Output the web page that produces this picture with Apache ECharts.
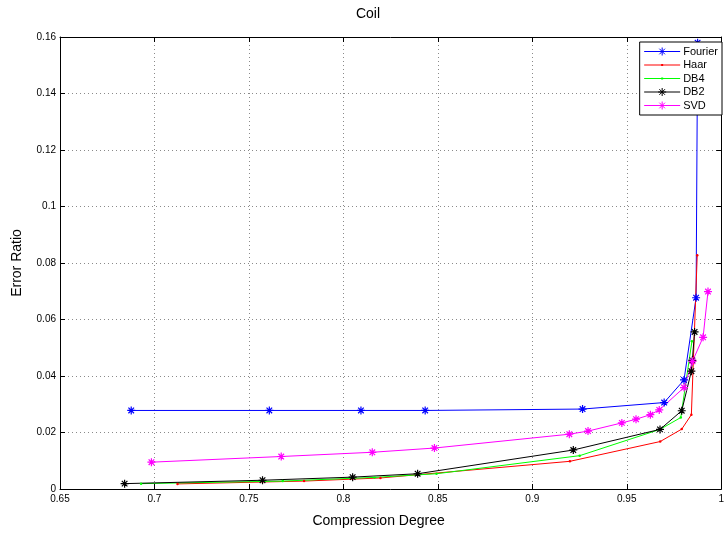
<!DOCTYPE html>
<html>
<head>
<meta charset="utf-8">
<script src="https://cdn.jsdelivr.net/npm/echarts@6/dist/echarts.min.js"></script>
<style>
  html, body { margin: 0; padding: 0; background: #fff; }
  #chart { width: 727px; height: 533px; }
</style>
</head>
<body>
<div id="chart"></div>
<script>
// Compression degree vs. error ratio for each transform
const fourierX = [0.6877, 0.7608, 0.8093, 0.8433, 0.9266, 0.9698, 0.9803, 0.9867, 0.9875];
const fourierY = [0.0278, 0.0278, 0.0278, 0.0278, 0.0283, 0.0306, 0.0386, 0.0677, 0.158];

const haarX = [0.7122, 0.7792, 0.8196, 0.9199, 0.9677, 0.9791, 0.9842, 0.9873];
const haarY = [0.0018, 0.0028, 0.0039, 0.0098, 0.0168, 0.0212, 0.0263, 0.0827];

const db4X = [0.6929, 0.7679, 0.8165, 0.8493, 0.9251, 0.9676, 0.9786, 0.9845];
const db4Y = [0.0019, 0.0028, 0.0041, 0.0054, 0.0118, 0.0211, 0.0253, 0.0523];

const db2X = [0.6842, 0.7572, 0.8049, 0.8393, 0.9217, 0.9676, 0.9791, 0.9842, 0.9847, 0.9859];
const db2Y = [0.0019, 0.0031, 0.0042, 0.0054, 0.0138, 0.0211, 0.0277, 0.0417, 0.0455, 0.0556];

const svdX = [0.6984, 0.7671, 0.8153, 0.8482, 0.9196, 0.9295, 0.9474, 0.9549, 0.9625, 0.9672, 0.9803, 0.9848, 0.9904, 0.9930];
const svdY = [0.0095, 0.0115, 0.0130, 0.0145, 0.0194, 0.0205, 0.0234, 0.0247, 0.0263, 0.0280, 0.0359, 0.0452, 0.0537, 0.0699];

const xTicks = { min: 0.65, max: 1, interval: 0.05 };
const yTicks = { min: 0, max: 0.16, interval: 0.02 };

const zip = (xs, ys) => xs.map((x, i) => [x, ys[i]]);

// eight-armed star marker
const STAR = 'path://M0,-10L0,10M-10,0L10,0M-7,-7L7,7M-7,7L7,-7';
// legend icons drawn in a 36x10 frame (zero-size corner points pin the frame)
const FRAME = 'M0,0L0,0ZM36,10L36,10Z';
const DOT_LINE_ICON = 'path://' + FRAME + 'M0,4.5L36,4.5L36,5.5L0,5.5ZM17,4L19,4L19,6L17,6Z';
const STAR_LINE_ICON = 'path://' + FRAME + 'M0,5L36,5M18,1L18,9M14,5L22,5M15.2,2.2L20.8,7.8M15.2,7.8L20.8,2.2';

function makeSeries(name, xs, ys, color, marker) {
  const star = marker === 'star';
  return {
    name: name,
    type: 'line',
    data: zip(xs, ys),
    symbol: star ? STAR : 'circle',
    symbolSize: star ? 8 : 2.5,
    showSymbol: true,
    animation: false,
    lineStyle: { color: color, width: 1 },
    itemStyle: star
      ? { color: 'rgba(0,0,0,0)', borderColor: color, borderWidth: 1.2 }
      : { color: color, borderWidth: 0 },
    emphasis: { disabled: true }
  };
}

const FONT = 'Liberation Sans, Arial, sans-serif';
const gridLine = { show: true, lineStyle: { color: '#8a8a8a', width: 1, type: [1, 3] } };

const chart = echarts.init(document.getElementById('chart'));
chart.setOption({
  backgroundColor: '#fff',
  animation: false,
  title: {
    text: 'Coil',
    left: 363,
    top: 2,
    textAlign: 'center',
    textStyle: { fontFamily: FONT, fontSize: 14, fontWeight: 'normal', color: '#000' }
  },
  grid: { left: 60, right: 1, top: 37, bottom: 41 },
  legend: {
    right: 5,
    top: 42,
    orient: 'vertical',
    backgroundColor: '#fff',
    borderColor: '#000',
    borderWidth: 1,
    borderRadius: 0,
    padding: [4, 4, 4, 4],
    itemGap: 2.5,
    itemWidth: 36,
    itemHeight: 10,
    itemStyle: { borderWidth: 1 },
    textStyle: { fontFamily: FONT, fontSize: 11, color: '#000', padding: [0, 0, 0, -2] },
    data: [
      { name: 'Fourier', icon: STAR_LINE_ICON },
      { name: 'Haar', icon: DOT_LINE_ICON, itemStyle: { borderWidth: 0 } },
      { name: 'DB4', icon: DOT_LINE_ICON, itemStyle: { borderWidth: 0 } },
      { name: 'DB2', icon: STAR_LINE_ICON },
      { name: 'SVD', icon: STAR_LINE_ICON }
    ]
  },
  xAxis: [{
    type: 'value',
    min: xTicks.min, max: xTicks.max, interval: xTicks.interval,
    name: 'Compression Degree',
    nameLocation: 'middle',
    nameGap: 25,
    nameTextStyle: { fontFamily: FONT, fontSize: 14, color: '#000', padding: [0, 24, 0, 0] },
    axisLine: { show: true, onZero: false, lineStyle: { color: '#000', width: 1 } },
    axisTick: { show: true, inside: true, length: 5, lineStyle: { color: '#000' } },
    axisLabel: { fontFamily: FONT, fontSize: 10, color: '#000', margin: 5 },
    splitLine: gridLine
  }, {
    type: 'value', position: 'top',
    min: xTicks.min, max: xTicks.max, interval: xTicks.interval,
    axisLine: { show: true, onZero: false, lineStyle: { color: '#000', width: 1 } },
    axisTick: { show: true, inside: true, length: 5, lineStyle: { color: '#000' } },
    axisLabel: { show: false },
    splitLine: { show: false }
  }],
  yAxis: [{
    type: 'value',
    min: yTicks.min, max: yTicks.max, interval: yTicks.interval,
    name: 'Error Ratio',
    nameLocation: 'middle',
    nameGap: 36,
    nameTextStyle: { fontFamily: FONT, fontSize: 14, color: '#000' },
    axisLine: { show: true, onZero: false, lineStyle: { color: '#000', width: 1 } },
    axisTick: { show: true, inside: true, length: 5, lineStyle: { color: '#000' } },
    axisLabel: { fontFamily: FONT, fontSize: 10, color: '#000', margin: 4 },
    splitLine: gridLine
  }, {
    type: 'value', position: 'right',
    min: yTicks.min, max: yTicks.max, interval: yTicks.interval,
    axisLine: { show: true, onZero: false, lineStyle: { color: '#000', width: 1 } },
    axisTick: { show: true, inside: true, length: 5, lineStyle: { color: '#000' } },
    axisLabel: { show: false },
    splitLine: { show: false }
  }],
  series: [
    makeSeries('Fourier', fourierX, fourierY, '#0000ff', 'star'),
    makeSeries('Haar', haarX, haarY, '#ff0000', 'dot'),
    makeSeries('DB4', db4X, db4Y, '#00ff00', 'dot'),
    makeSeries('DB2', db2X, db2Y, '#000000', 'star'),
    makeSeries('SVD', svdX, svdY, '#ff00ff', 'star')
  ]
});
</script>
</body>
</html>
